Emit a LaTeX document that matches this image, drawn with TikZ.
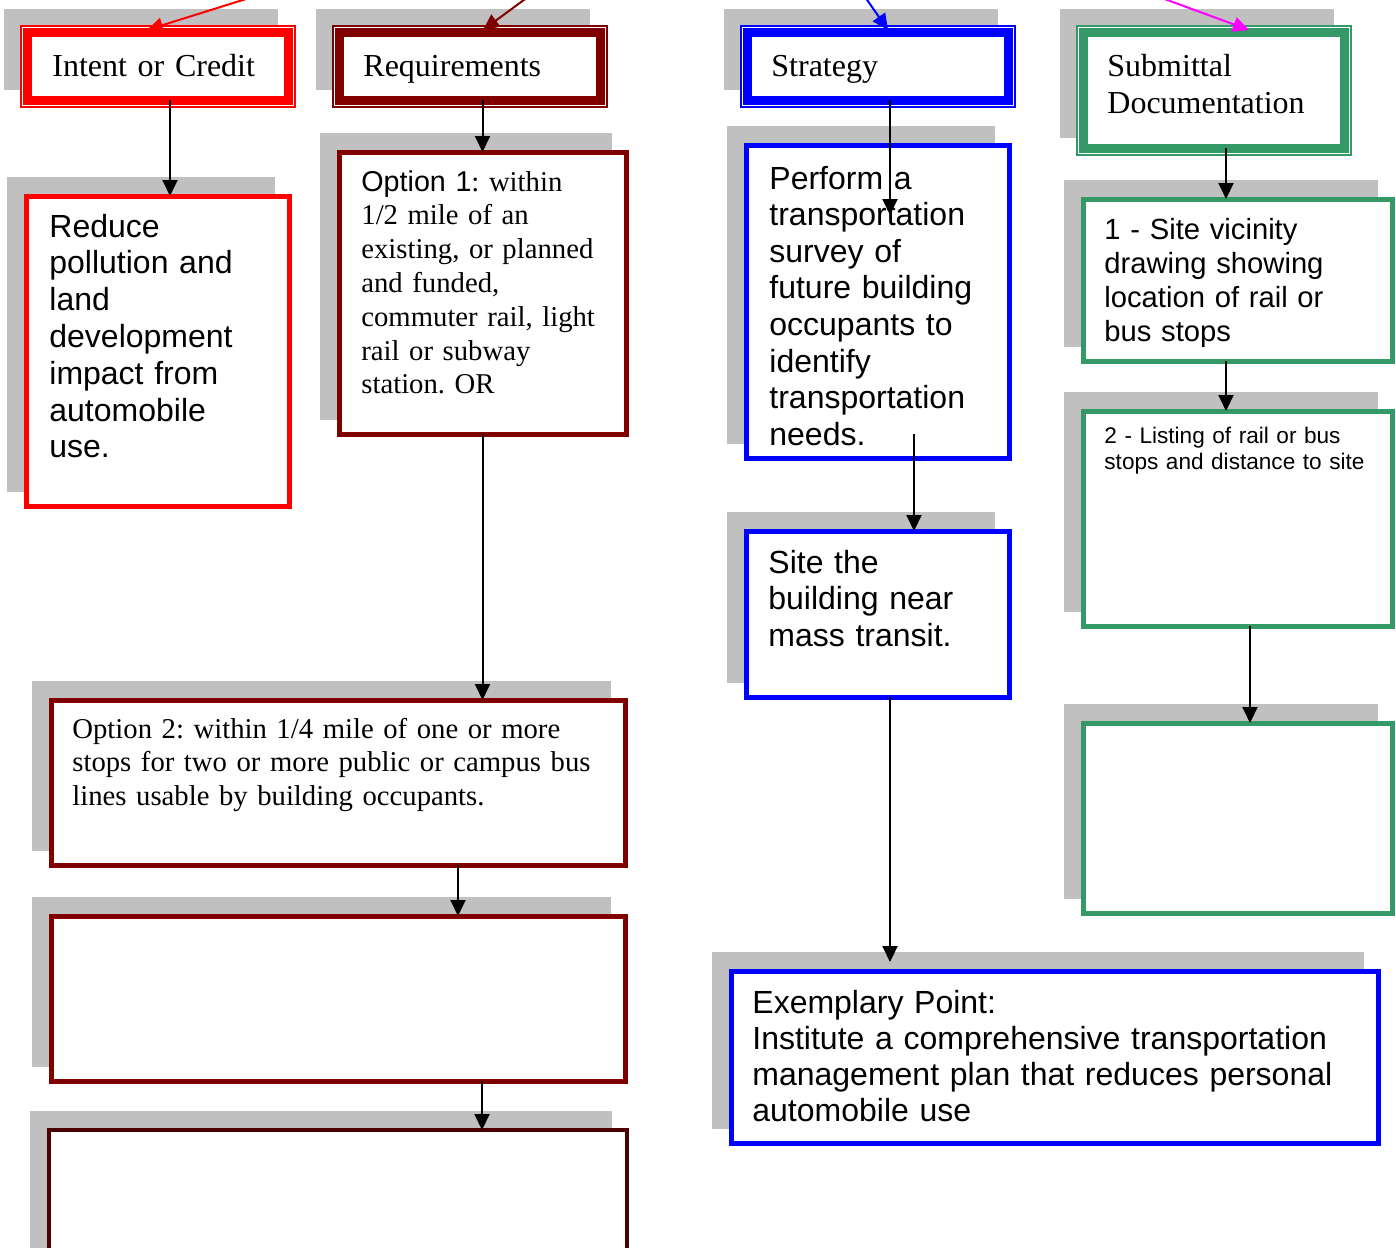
\documentclass[tikz,border=0pt]{standalone}
\usepackage{fontspec}
\setmainfont{Liberation Serif}
\setsansfont{Liberation Sans}
\usetikzlibrary{arrows.meta,shadows}
\frenchspacing

\definecolor{boxred}{RGB}{255,0,0}
\definecolor{boxdarkred}{RGB}{128,0,0}
\definecolor{boxblue}{RGB}{0,0,255}
\definecolor{boxgreen}{RGB}{51,153,102}
\definecolor{boxmagenta}{RGB}{255,0,255}
\definecolor{shadowgray}{RGB}{192,192,192}

\tikzset{
	hdr/.style={draw=#1, fill=white, line width=1pt, inner sep=0pt, outer sep=0pt, anchor=north west,
		minimum width=137pt, minimum height=40.5pt,
		general shadow={fill=shadowgray, shadow xshift=-8.5pt, shadow yshift=8.5pt}},
	card/.style={draw=#1, fill=white, line width=2.5pt, inner sep=0pt, outer sep=0pt, anchor=north west,
		general shadow={fill=shadowgray, draw=shadowgray, shadow xshift=-8.5pt, shadow yshift=8.5pt}},
	txt/.style={inner sep=0pt, anchor=base west, align=left, text width=330pt},
	link/.style={-{Triangle[width=7.5pt,length=8pt]}, line width=1pt},
	hdrfont/.style={font=\fontsize{16pt}{18.5pt}\selectfont},
	bigsans/.style={font=\sffamily\fontsize{16pt}{18.4pt}\selectfont},
	midserif/.style={font=\fontsize{14.35pt}{16.9pt}\selectfont},
	midsans/.style={font=\sffamily\fontsize{14.6pt}{17pt}\selectfont},
	smallsans/.style={font=\sffamily\fontsize{11.3pt}{13pt}\selectfont}
}

\begin{document}
\begin{tikzpicture}[x=0.5pt,y=-0.5pt]
					\useasboundingbox (0,0) rectangle (1396,1247);
					\clip (0,0) rectangle (1396,1247);
					\node[hdr=boxred] (intent) at (21,26) {};
					\node[hdr=boxdarkred] (req) at (333,26) {};
					\node[hdr=boxblue] (strat) at (741,26) {};
					\node[hdr=boxgreen, minimum height=64.5pt] (sub) at (1077,26) {};
					\foreach \n/\c in {intent/boxred, req/boxdarkred, strat/boxblue, sub/boxgreen}
						\draw[\c, line width=4.25pt] ([shift={(6.5,6.5)}]\n.north west) rectangle ([shift={(-6.5,-6.5)}]\n.south east);
					\node[txt, hdrfont] (intent-t) at (52,76) {Intent or Credit};
					\node[txt, hdrfont] (req-t) at (363,76) {Requirements};
					\node[txt, hdrfont] (strat-t) at (771,76) {Strategy};
					\node[txt, hdrfont] (sub-t) at (1107,76) {Submittal\\Documentation};
					\node[card=boxred, minimum width=131.5pt, minimum height=155pt] (reduce) at (26,196) {};
					\node[card=boxdarkred, minimum width=143.5pt, minimum height=141pt] (opt1) at (339,152) {};
					\node[card=boxblue, minimum width=131.5pt, minimum height=156.5pt] (perform) at (746,145) {};
					\node[card=boxblue, minimum width=131.5pt, minimum height=83pt] (siteb) at (746,531) {};
					\node[card=boxgreen, minimum width=154.5pt, minimum height=81pt] (site1) at (1083,199) {};
					\node[card=boxgreen, minimum width=154.5pt, minimum height=107.5pt] (site2) at (1083,411) {};
					\node[card=boxgreen, minimum width=154.5pt, minimum height=95pt] (green3) at (1083,723) {};
					\node[card=boxblue, minimum width=323.5pt, minimum height=86pt] (exemp) at (731,971) {};
					\node[card=boxdarkred, minimum width=287pt, minimum height=82.5pt] (opt2) at (51,700) {};
					\node[card=boxdarkred, minimum width=287pt, minimum height=82.5pt] (opt3) at (51,916) {};
					\node[card=boxdarkred!60!black, line width=1.6pt, minimum width=289pt, minimum height=90pt] (opt4) at (49,1130) {};
					\node[txt, bigsans] (reduce-t) at (49,237) {Reduce\\pollution and\\land\\development\\impact from\\automobile\\use.};
					\node[txt, midserif] (opt1-t) at (361,191) {{\sffamily Option 1}: within\\1/2 mile of an\\existing, or planned\\and funded,\\commuter rail, light\\rail or subway\\station. OR};
					\node[txt, bigsans, font=\sffamily\fontsize{16pt}{18.3pt}\selectfont] (perform-t) at (769,189) {Perform a\\transportation\\survey of\\future building\\occupants to\\identify\\transportation\\needs.};
					\node[txt, midsans] (site1-t) at (1104,239) {1 - Site vicinity\\drawing showing\\location of rail or\\bus stops};
					\node[txt, smallsans] (site2-t) at (1104,443) {2 - Listing of rail or bus\\stops and distance to site};
					\node[txt, bigsans] (siteb-t) at (768,573) {Site the\\building near\\mass transit.};
					\node[txt, bigsans, font=\sffamily\fontsize{16pt}{18.15pt}\selectfont] (exemp-t) at (752,1013) {Exemplary Point:\\Institute a comprehensive transportation\\management plan that reduces personal\\automobile use};
					\node[txt, midserif] (opt2-t) at (72,738) {Option 2: within 1/4 mile of one or more\\stops for two or more public or campus bus\\lines usable by building occupants.};
					\draw[link] ([xshift=6pt,yshift=3.5pt]intent.south) -- ([xshift=6pt]intent.south |- reduce.north);
					\draw[link] ([yshift=3.5pt]req.south -| opt1.north) -- (opt1.north);
					\draw[link] (opt1.south) -- (opt1.south |- opt2.north);
					\draw[link] ([xshift=60pt]opt2.south) -- ([xshift=60pt]opt2.south |- opt3.north);
					\draw[link] ([xshift=72pt]opt3.south) -- ([xshift=72pt]opt3.south |- opt4.north);
					\draw[link] ([xshift=6pt,yshift=3.5pt]strat.south) -- ([xshift=6pt,yshift=-35pt]strat.south |- perform.north);
					\draw[link] ([xshift=18.25pt,yshift=12pt]siteb.north |- perform.south) -- ([xshift=18.25pt]siteb.north);
					\draw[link] ([xshift=6.25pt]siteb.south) -- ([xshift=6.25pt,yshift=4.5pt]siteb.south |- exemp.north);
					\draw[link] ([xshift=6pt,yshift=3.5pt]sub.south) -- ([xshift=6pt]sub.south |- site1.north);
					\draw[link] ([xshift=-5.75pt]site1.south) -- ([xshift=-5.75pt]site1.south |- site2.north);
					\draw[link] ([xshift=6.25pt]site2.south) -- ([xshift=6.25pt]site2.south |- green3.north);
					\coordinate (intent-in) at (262,-6);
					\coordinate (req-in) at (532,-6);
					\coordinate (strat-in) at (863,-6);
					\coordinate (sub-in) at (1151,-6);
					\draw[link, boxred] (intent-in) -- ([shift={(-11,4)}]intent.north);
					\draw[link, boxdarkred] (req-in) -- ([shift={(13,4)}]req.north);
					\draw[link, boxblue] (strat-in) -- ([shift={(10,4)}]strat.north);
					\draw[link, boxmagenta] (sub-in) -- ([shift={(35,4)}]sub.north);
				\end{tikzpicture}
\end{document}
